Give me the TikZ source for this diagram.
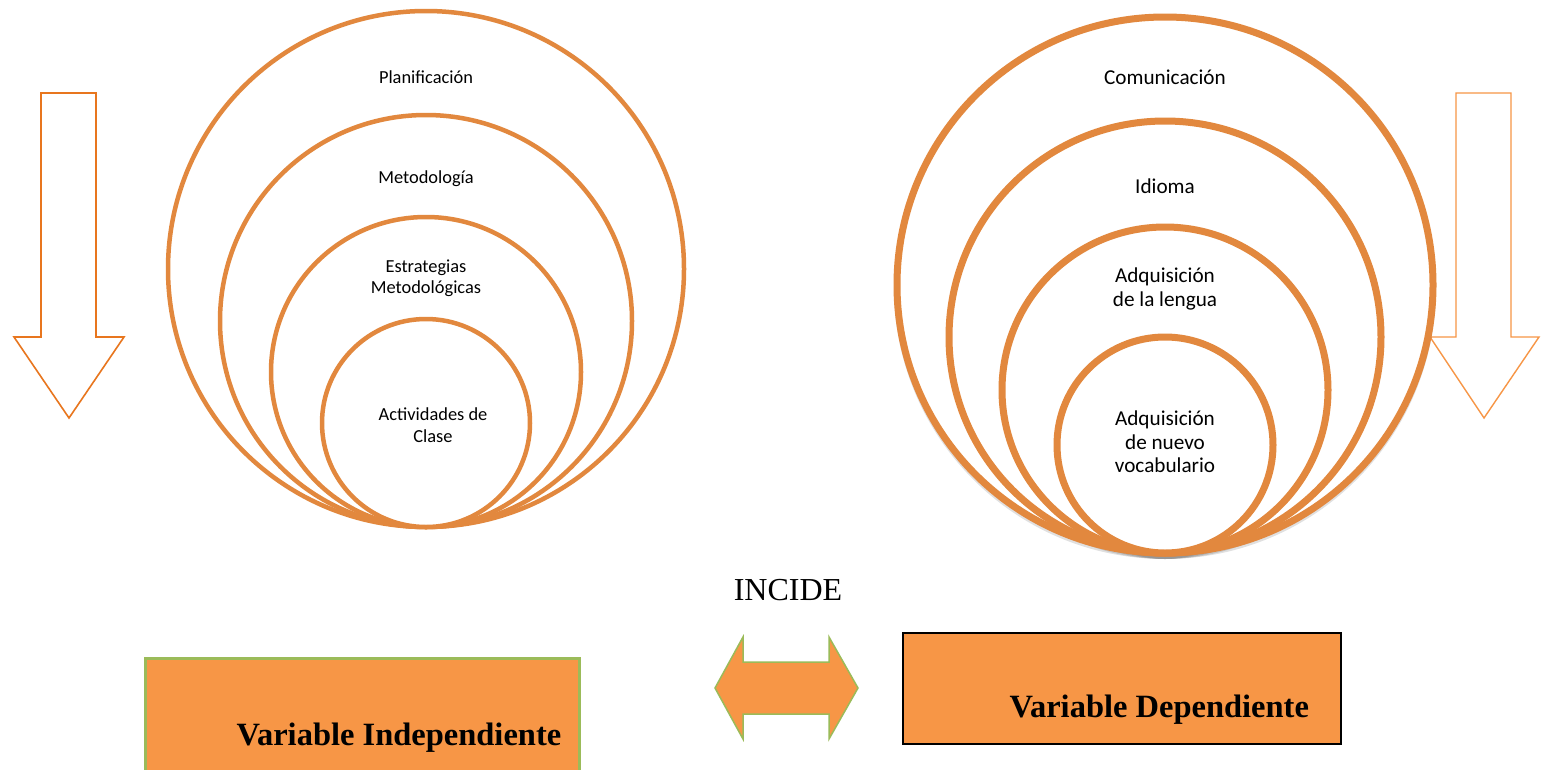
\documentclass[tikz,border=0pt]{standalone}
\usepackage{fontspec}
\setmainfont{Liberation Serif}
\newfontfamily\calib{Carlito}
\begin{document}
\begin{tikzpicture}[x=1pt,y=-1pt,
  ringL/.style={circle,draw=ringc,line width=4.5pt,fill=white,inner sep=0pt},
  ringR/.style={circle,draw=ringc,line width=7pt,fill=white,inner sep=0pt},
  lblL/.style={font=\calib\fontsize{18.4}{21.5}\selectfont,align=center,text=black},
  lblR/.style={font=\calib\fontsize{21.2}{23.5}\selectfont,align=center,text=black},
  boxtxt/.style={font=\bfseries\fontsize{32.5}{36}\selectfont,text=black,anchor=west}]
\definecolor{ringc}{RGB}{226,136,62}
\definecolor{arrL}{RGB}{232,118,30}
\definecolor{arrR}{RGB}{247,150,70}
\definecolor{boxf}{RGB}{247,150,70}
\definecolor{grn}{RGB}{155,187,89}
\useasboundingbox (0,0) rectangle (1548,769);
\fill[white] (0,0) rectangle (1548,769);

% left arrow
\draw[arrL,line width=1.6pt,line join=miter] (41,93) -- (96,93) -- (96,337) -- (124,337) -- (69,418) -- (14,337) -- (41,337) -- cycle;
% right arrow
\draw[arrR,line width=1.4pt,line join=miter] (1456,93) -- (1511,93) -- (1511,337) -- (1539,337) -- (1484,418) -- (1430,337) -- (1456,337) -- cycle;

% left circles
\node[ringL,minimum size=516pt] (l1) at (426,269) {};
\node[ringL,minimum size=412pt] (l2) at (426,321) {};
\node[ringL,minimum size=310pt] (l3) at (426,372) {};
\node[ringL,minimum size=208pt] (l4) at (426,423) {};
\node[lblL] (t1) at (426,77) {Planificación};
\node[lblL] (t2) at (426,179) {Metodología};
\node[lblL] (t3) at (426,278) {Estrategias\\Metodológicas};
\node[lblL] (t4) at (433,425) {Actividades de\\Clase};

% right circles (shadow)
\foreach \r/\cy in {268/285,216/337,163/390,108/445}{
  \fill[black,opacity=0.12] (1165,\cy+3) circle (\r+3);
}
\node[ringR,minimum size=536pt] (r1) at (1165,285) {};
\node[ringR,minimum size=432pt] (r2) at (1165,337) {};
\node[ringR,minimum size=326pt] (r3) at (1165,390) {};
\node[ringR,minimum size=216pt] (r4) at (1165,445) {};
\node[lblR] (s1) at (1165,77) {Comunicación};
\node[lblR] (s2) at (1165,186) {Idioma};
\node[lblR] (s3) at (1165,289) {Adquisición\\de la lengua};
\node[lblR] (s4) at (1165,442) {Adquisición\\de nuevo\\vocabulario};

% INCIDE
\node[font=\fontsize{32}{36}\selectfont] (inc) at (788,590) {INCIDE};

% double arrow
\draw[grn,fill=boxf,line width=1.5pt,line join=miter] (715,688) -- (743,637) -- (743,662) -- (829,662) -- (829,637) -- (858,688) -- (829,739) -- (829,714) -- (743,714) -- (743,739) -- cycle;

% boxes
\node[draw=grn,fill=boxf,line width=3pt,rectangle,minimum width=434pt,minimum height=130pt,inner sep=0pt,anchor=north west] (bL) at (144,657) {};
\node[boxtxt] (bLt) at (233,738) {Variable Independiente};
\node[draw=black,fill=boxf,line width=2pt,rectangle,minimum width=438pt,minimum height=111pt,inner sep=0pt,anchor=north west] (bR) at (902,632) {};
\node[boxtxt] (bRt) at (1006,710) {Variable Dependiente};
\end{tikzpicture}
\end{document}
